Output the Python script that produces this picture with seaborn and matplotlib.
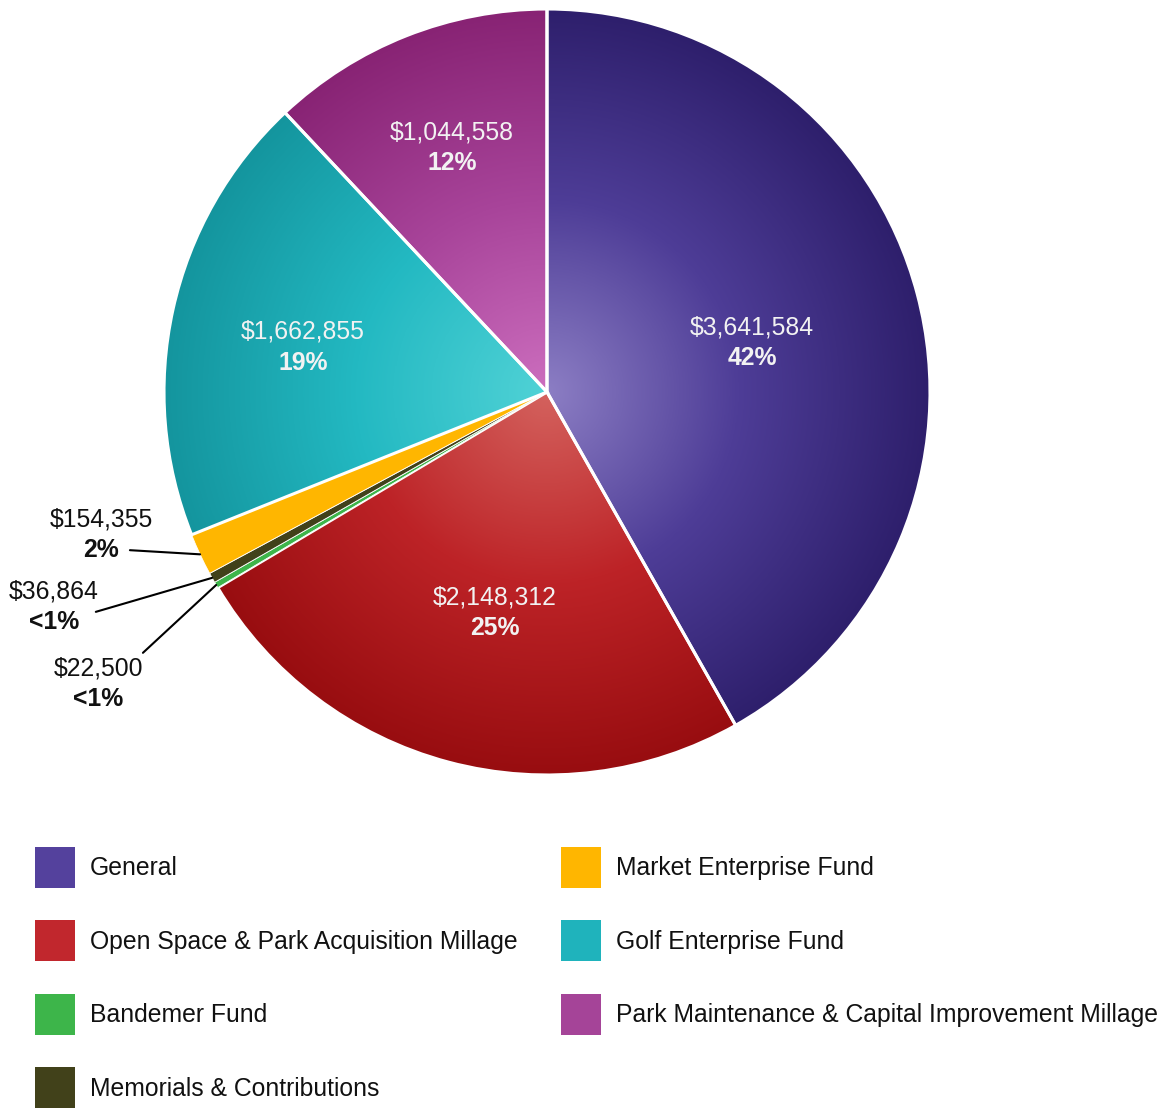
import numpy as np
import matplotlib.pyplot as plt
import seaborn as sns
from matplotlib.patches import Patch

# data
funds = [
    "General",
    "Open Space & Park Acquisition Millage",
    "Bandemer Fund",
    "Memorials & Contributions",
    "Market Enterprise Fund",
    "Golf Enterprise Fund",
    "Park Maintenance & Capital Improvement Millage",
]
amounts = [3641584, 2148312, 22500, 36864, 154355, 1662855, 1044558]
pct_labels = ["42%", "25%", "<1%", "<1%", "2%", "19%", "12%"]
legend_colors = ["#54419d", "#c1272d", "#3db54a", "#41411a", "#ffb600", "#1fb3bc", "#a54498"]

# radial gradients (centre -> middle -> rim) for the big slices
gradients = {
    0: ["#8c7ec4", "#4e3d97", "#2e1f6c"],
    1: ["#d4625e", "#bd2327", "#980d10"],
    5: ["#50d2d6", "#23b9c2", "#14959e"],
    6: ["#cc6ebe", "#a8449a", "#882374"],
}

sns.set_theme(style="white")
plt.rcParams["font.family"] = ["Liberation Sans", "DejaVu Sans"]

W, H = 1171, 1108
CX, CY, R = 547, 392, 383  # pie centre / radius in pixels
FS = 17.8
TXT = "#111111"

fig = plt.figure(figsize=(W / 100, H / 100), dpi=100)
ax = fig.add_axes([0, 0, 1, 1])

wedges, _ = ax.pie(amounts, colors=legend_colors, startangle=90, counterclock=False,
                   radius=1, wedgeprops=dict(edgecolor="white", linewidth=2.2))

# gradient fill clipped to each big wedge
g = np.linspace(-1, 1, 700)
xx, yy = np.meshgrid(g, g)
rr = np.clip(np.sqrt(xx ** 2 + yy ** 2), 0, 1)
for i, cols in gradients.items():
    cmap = sns.blend_palette(cols, as_cmap=True)
    im = ax.imshow(rr, extent=[-1, 1, -1, 1], origin="lower", cmap=cmap,
                   vmin=0, vmax=1, zorder=1, interpolation="bilinear")
    im.set_clip_path(wedges[i])
    wedges[i].set_facecolor("none")
for i, w in enumerate(wedges):
    w.set_zorder(2)
    if i in (2, 3, 4):
        w.set_linewidth(0.6)

# labels inside the big slices
inner_pos = {0: (0.535, 0.128), 1: (-0.136, -0.577), 5: (-0.637, 0.117), 6: (-0.248, 0.638)}
for i, (x, y) in inner_pos.items():
    ax.text(x, y + 0.04, f"${amounts[i]:,}", ha="center", va="center",
            color="#f2f2f2", fontsize=FS, zorder=4)
    ax.text(x, y - 0.04, pct_labels[i], ha="center", va="center",
            color="#f2f2f2", fontsize=FS, fontweight="bold", zorder=4)

# labels outside the small slices, with leader lines
outer = {
    4: dict(text=(-1.164, -0.334), line=(-1.089, -0.413)),
    3: dict(text=(-1.287, -0.522), line=(-1.178, -0.574)),
    2: dict(text=(-1.172, -0.723), line=(-1.055, -0.681)),
}
for i, o in outer.items():
    w = wedges[i]
    ang = np.deg2rad((w.theta1 + w.theta2) / 2)
    tx, ty = o["text"]
    ax.text(tx, ty, f"${amounts[i]:,}", ha="center", va="center",
            color=TXT, fontsize=FS)
    ax.text(tx, ty - 0.078, pct_labels[i], ha="center", va="center",
            color=TXT, fontsize=FS, fontweight="bold")
    lx, ly = o["line"]
    ax.plot([lx, np.cos(ang)], [ly, np.sin(ang)], color="black", lw=1.5,
            clip_on=False, zorder=3)

ax.set_xlim((0 - CX) / R, (W - CX) / R)
ax.set_ylim((CY - H) / R, CY / R)
ax.set_aspect("equal")
ax.axis("off")

handles = [Patch(facecolor=c, edgecolor="none") for c in legend_colors]
leg_kw = dict(loc="upper left", frameon=False, borderpad=0, borderaxespad=0,
              fontsize=FS, handlelength=1.62, handleheight=2.15,
              labelspacing=1.33, handletextpad=0.6, labelcolor=TXT)
fig.legend(handles[:4], funds[:4], bbox_to_anchor=(35 / W, 1 - 847 / H), **leg_kw)
fig.legend(handles[4:], funds[4:], bbox_to_anchor=(561 / W, 1 - 847 / H), **leg_kw)

fig.savefig("out.png", dpi=100, facecolor="white")
